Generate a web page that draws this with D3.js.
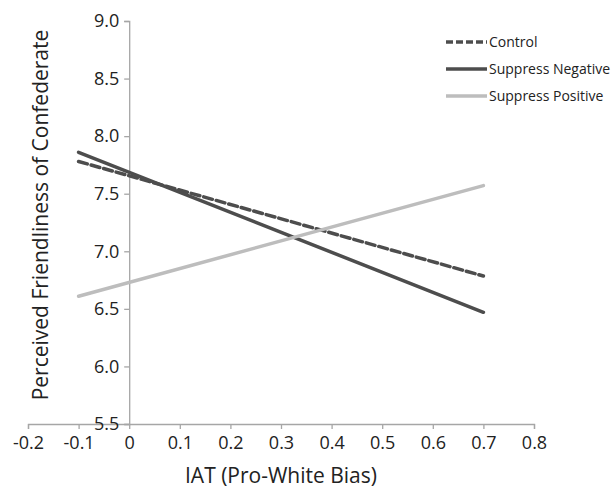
<!DOCTYPE html>
<html>
<head>
<meta charset="utf-8">
<script src="https://cdn.jsdelivr.net/npm/d3@7"></script>
<style>
  body { margin: 0; background: #fff; }
  text { font-family: "Open Sans", sans-serif; fill: #222; }
</style>
</head>
<body>
<svg id="chart" width="611" height="488"></svg>
<script>
// IAT endpoints used for the simple slopes
var iatPoints = [-0.1, 0.7];

// predicted friendliness at each endpoint
var controlVals = [7.78, 6.785];
var suppressNegVals = [7.86, 6.47];
var suppressPosVals = [6.61, 7.57];

var seriesNames = ["Control", "Suppress Negative", "Suppress Positive"];

var xTicks = [-0.2, -0.1, 0, 0.1, 0.2, 0.3, 0.4, 0.5, 0.6, 0.7, 0.8];
var yTicks = [5.5, 6.0, 6.5, 7.0, 7.5, 8.0, 8.5, 9.0];

var svg = d3.select("#chart");

var x = d3.scaleLinear().domain([-0.2, 0.8]).range([28, 534]);
var y = d3.scaleLinear().domain([5.5, 9.0]).range([424, 21]);

var axisColor = "#a6a6a6";

// plain hyphen for negatives, like the original
var fmt = function(d) { return d === 0 ? "0" : d3.format(".1f")(d).replace("\u2212", "-"); };

// x axis sits at y = 5.5
var xAxis = svg.append("g")
    .attr("transform", "translate(0," + y(5.5) + ")")
    .call(d3.axisBottom(x).tickValues(xTicks).tickSize(5).tickPadding(7).tickFormat(fmt));

// y axis sits at x = 0
var yAxis = svg.append("g")
    .attr("transform", "translate(" + x(0) + ",0)")
    .call(d3.axisLeft(y).tickValues(yTicks).tickSize(5).tickPadding(5)
        .tickFormat(d3.format(".1f")));

[xAxis, yAxis].forEach(function(a) {
    a.select(".domain").attr("stroke", axisColor).attr("stroke-width", 1.3);
    a.selectAll(".tick line").attr("stroke", axisColor).attr("stroke-width", 1.3);
    a.selectAll(".tick text").style("font-size", "18px").attr("fill", "#222");
});

// axis titles
svg.append("text")
    .attr("x", x(0.3))
    .attr("y", 483)
    .attr("text-anchor", "middle")
    .style("font-size", "21px")
    .text("IAT (Pro-White Bias)");

svg.append("text")
    .attr("transform", "translate(48,215) rotate(-90)")
    .attr("text-anchor", "middle")
    .style("font-size", "21px")
    .text("Perceived Friendliness of Confederate");

var series = [
    { name: seriesNames[0], vals: controlVals, color: "#4d4d4d", dash: "9,4" },
    { name: seriesNames[1], vals: suppressNegVals, color: "#4d4d4d", dash: null },
    { name: seriesNames[2], vals: suppressPosVals, color: "#bdbdbd", dash: null }
];

var line = d3.line()
    .x(function(d, i) { return x(iatPoints[i]); })
    .y(function(d) { return y(d); });

svg.selectAll("path.series")
    .data(series)
    .enter()
    .append("path")
    .attr("class", "series")
    .attr("d", function(d) { return line(d.vals); })
    .attr("fill", "none")
    .attr("stroke", function(d) { return d.color; })
    .attr("stroke-width", 3.5)
    .attr("stroke-linecap", "round")
    .attr("stroke-dasharray", function(d) { return d.dash; });

// legend
var legend = svg.append("g").attr("transform", "translate(446,42)");
var item = legend.selectAll("g")
    .data(series)
    .enter()
    .append("g")
    .attr("transform", function(d, i) { return "translate(0," + (i * 27) + ")"; });

item.append("line")
    .attr("x1", 0).attr("x2", 41)
    .attr("y1", 0).attr("y2", 0)
    .attr("stroke", function(d) { return d.color; })
    .attr("stroke-width", 3.5)
    .attr("stroke-dasharray", function(d) { return d.dash ? "7,3" : null; });

item.append("text")
    .attr("x", 43)
    .attr("y", 5)
    .style("font-size", "14px")
    .text(function(d) { return d.name; });
</script>
</body>
</html>
